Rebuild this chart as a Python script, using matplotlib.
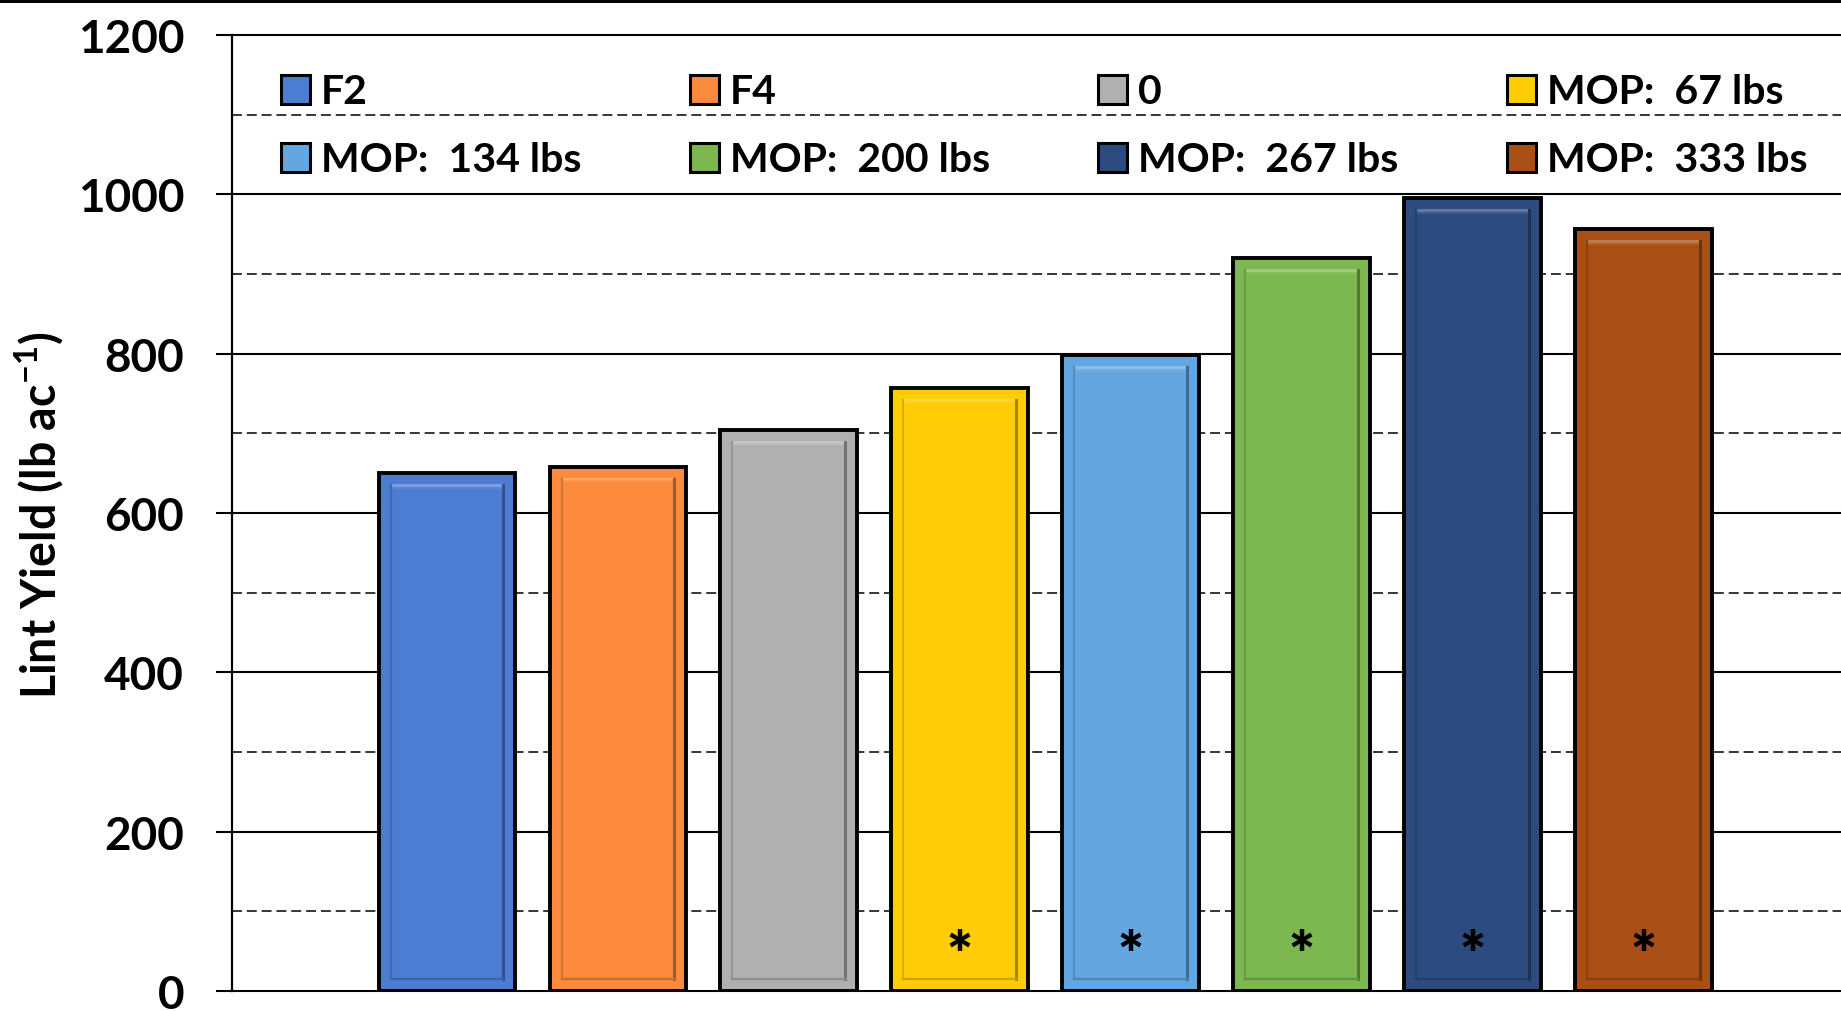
import matplotlib
matplotlib.use("Agg")
import matplotlib.pyplot as plt
from matplotlib.patches import Rectangle
from matplotlib.lines import Line2D
from matplotlib.colors import to_rgb
import numpy as np

categories = ["F2", "F4", "0", "MOP:  67 lbs", "MOP:  134 lbs",
              "MOP:  200 lbs", "MOP:  267 lbs", "MOP:  333 lbs"]
yields = [650, 658, 704, 757, 798, 920, 995, 956]
significant = [False, False, False, True, True, True, True, True]
colors = ["#4D7CD3", "#FB8A3C", "#B0B0B0", "#FFCC05",
          "#63A6E0", "#7CB84F", "#2C4C80", "#A94F15"]
y_ticks = [0, 200, 400, 600, 800, 1000, 1200]

FONT = ["Lato", "DejaVu Sans"]
plt.rcParams["font.family"] = FONT
plt.rcParams["font.weight"] = "bold"
plt.rcParams["mathtext.fontset"] = "custom"
plt.rcParams["mathtext.bf"] = "Lato:bold"
plt.rcParams["mathtext.rm"] = "Lato:bold"

W, H, DPI = 1841, 1012, 100
fig = plt.figure(figsize=(W / DPI, H / DPI), dpi=DPI)
fig.patch.set_facecolor("white")


def fx(px):
    return px / W


def fy(py):
    return 1 - py / H


ax_l, ax_b, ax_t = fx(232), fy(992), fy(36)
ax = fig.add_axes([ax_l, ax_b, 1.0 - ax_l, ax_t - ax_b])

x = np.arange(len(categories))
xlim = (-1.258, 8.157)
ylim = (0, 1200)
ax.set_xlim(*xlim)
ax.set_ylim(*ylim)

# grid: solid major lines, dashed minor lines
for v in range(100, 1200, 200):
    ax.axhline(v, color="black", lw=1.1, ls=(0, (6.5, 3.2)), zorder=0.5)
for v in y_ticks:
    ax.axhline(v, color="black", lw=1.5, zorder=0.5, clip_on=False)

bw = 0.8
ax.bar(x, yields, width=bw, color=colors, edgecolor="black",
       linewidth=2.8, zorder=2)

# bevel inset drawn inside each bar
ax_w_px = (1.0 - ax_l) * W
ax_h_px = (ax_t - ax_b) * H
px_x = (xlim[1] - xlim[0]) / ax_w_px
px_y = (ylim[1] - ylim[0]) / ax_h_px
ix, iy = 12 * px_x, 12 * px_y


def shade(c, f):
    r, g, b = to_rgb(c)
    if f >= 0:
        return (r + (1 - r) * f, g + (1 - g) * f, b + (1 - b) * f)
    return (r * (1 + f), g * (1 + f), b * (1 + f))


for xi, yi, c in zip(x, yields, colors):
    x0, x1 = xi - bw / 2 + ix, xi + bw / 2 - ix
    y0, y1 = iy, yi - iy
    ax.add_line(Line2D([x0, x1], [y1, y1], color=shade(c, 0.25), lw=2.2, zorder=3))
    ax.add_line(Line2D([x0, x1], [y1 - 2.5 * px_y] * 2,
                       color=shade(c, 0.1), lw=1.2, zorder=3))
    ax.add_line(Line2D([x0, x0], [y0, y1], color=shade(c, -0.15), lw=1.6, zorder=3))
    ax.add_line(Line2D([x1, x1], [y0, y1], color=shade(c, -0.35), lw=2.2, zorder=3))
    ax.add_line(Line2D([x0, x1], [y0, y0], color=shade(c, -0.2), lw=1.6, zorder=3))

# significance markers near the base of the bars
for xi, s in zip(x, significant):
    if s:
        ax.text(xi, 49, "*", ha="center", va="center_baseline", fontsize=44,
                fontweight="heavy", color="black", zorder=4, family=FONT)

ax.set_yticks(y_ticks)
ax.set_yticklabels([str(v) for v in y_ticks])
ax.tick_params(axis="y", length=11.5, width=1.5, labelsize=33, pad=23,
               direction="out")
ax.set_xticks([])
for s in ["top", "right", "bottom"]:
    ax.spines[s].set_visible(False)
ax.spines["left"].set_linewidth(1.6)

fig.text(fx(39), fy(515), "Lint Yield (lb ac$^{\\mathbf{-1}}$)", rotation=90,
         ha="center", va="center", fontsize=33.5, fontweight="bold", family=FONT)

# legend: two rows of four swatches
col_x = [281, 690, 1098, 1507]
row_y = [90, 158.5]
sq = 29
for i, (lab, c) in enumerate(zip(categories, colors)):
    r, k = divmod(i, 4)
    cx, cy = col_x[k], row_y[r]
    fig.patches.append(Rectangle((fx(cx), fy(cy + sq / 2)), sq / W, sq / H,
                                 transform=fig.transFigure, facecolor=c,
                                 edgecolor="black", lw=2.2, zorder=6))
    fig.text(fx(cx + sq + 11), fy(cy + 14), lab, ha="left", va="baseline",
             fontsize=29.5, fontweight="bold", family=FONT, zorder=6)

# dark band along the top edge of the figure
fig.patches.append(Rectangle((0, fy(4)), 1, 4 / H, transform=fig.transFigure,
                             facecolor="black", edgecolor="none", zorder=10))

fig.savefig("out.png", dpi=DPI, facecolor="white")
